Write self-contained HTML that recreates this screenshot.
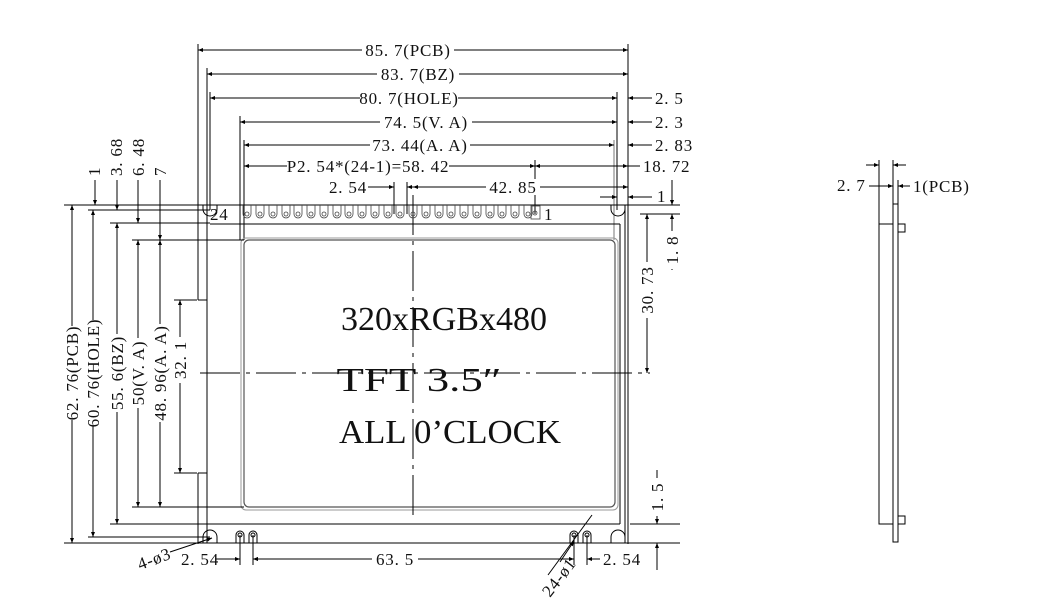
<!DOCTYPE html>
<html><head><meta charset="utf-8"><style>
html,body{margin:0;padding:0;background:#fff;}
svg{display:block;}
text{font-family:"Liberation Serif","Noto Serif CJK SC",serif;fill:#111;}
.d text{font-size:17px;letter-spacing:0.8px;}
</style></head><body>
<svg width="1051" height="616" viewBox="0 0 1051 616" xmlns="http://www.w3.org/2000/svg">
<defs>
<marker id="a" viewBox="0 0 10 10" refX="10" refY="5" markerWidth="12" markerHeight="5" markerUnits="userSpaceOnUse" orient="auto-start-reverse"><path d="M0,1 L10,5 L0,9z" fill="#000"/></marker>
</defs>
<g stroke="#000" stroke-width="1" fill="none">
<line x1="198" y1="44" x2="198" y2="300"/>
<line x1="198" y1="473" x2="198" y2="544"/>
<line x1="628" y1="44" x2="628" y2="544"/>
<line x1="207" y1="68" x2="207" y2="543"/>
<line x1="210" y1="92" x2="210" y2="210"/>
<line x1="617" y1="92" x2="617" y2="210"/>
<line x1="240" y1="116" x2="240" y2="240"/>
<line x1="244" y1="140" x2="244" y2="240"/>
<line x1="614" y1="140" x2="614" y2="240" stroke="#777"/>
<line x1="535" y1="160" x2="535" y2="214"/>
<line x1="394" y1="182" x2="394" y2="214"/>
<line x1="407" y1="182" x2="407" y2="214"/>
<line x1="198" y1="50" x2="628" y2="50" marker-start="url(#a)" marker-end="url(#a)"/>
<line x1="207" y1="74" x2="628" y2="74" marker-start="url(#a)" marker-end="url(#a)"/>
<line x1="210" y1="98" x2="617" y2="98" marker-start="url(#a)" marker-end="url(#a)"/>
<line x1="628" y1="98" x2="652" y2="98" marker-start="url(#a)"/>
<line x1="240" y1="122" x2="617" y2="122" marker-start="url(#a)" marker-end="url(#a)"/>
<line x1="628" y1="122" x2="652" y2="122" marker-start="url(#a)"/>
<line x1="244" y1="145" x2="614" y2="145" marker-start="url(#a)" marker-end="url(#a)"/>
<line x1="628" y1="145" x2="652" y2="145" marker-start="url(#a)"/>
<line x1="244" y1="166" x2="535" y2="166" marker-start="url(#a)" marker-end="url(#a)"/>
<line x1="535" y1="166" x2="628" y2="166" marker-start="url(#a)" marker-end="url(#a)"/>
<line x1="628" y1="166" x2="640" y2="166"/>
<line x1="368" y1="187" x2="394" y2="187" marker-end="url(#a)"/>
<line x1="420" y1="187" x2="407" y2="187" marker-end="url(#a)"/>
<line x1="413" y1="187" x2="628" y2="187" marker-start="url(#a)" marker-end="url(#a)"/>
<line x1="600" y1="197" x2="617" y2="197" marker-end="url(#a)"/>
<line x1="652" y1="197" x2="628" y2="197" marker-end="url(#a)"/>
<line x1="64" y1="205" x2="680" y2="205"/>
<line x1="64" y1="543" x2="680" y2="543"/>
<path d="M198 300 H207 M198 473 H207"/>
<line x1="210" y1="224" x2="620" y2="224"/>
<line x1="210" y1="524" x2="620" y2="524"/>
<line x1="620" y1="224" x2="620" y2="524"/>
<line x1="625" y1="205" x2="625" y2="543"/>
<rect x="244" y="240" width="371" height="267" rx="5" stroke="#555" stroke-width="1.2"/>
<rect x="241" y="238" width="377" height="272" rx="5" stroke="#999"/>
<line x1="88" y1="210" x2="210" y2="210"/>
<line x1="110" y1="223" x2="210" y2="223"/>
<line x1="132" y1="240" x2="244" y2="240"/>
<line x1="132" y1="507" x2="244" y2="507"/>
<line x1="110" y1="524" x2="210" y2="524"/>
<line x1="88" y1="537" x2="210" y2="537"/>
<line x1="174" y1="300" x2="197" y2="300"/>
<line x1="174" y1="473" x2="197" y2="473"/>
<line x1="72" y1="205" x2="72" y2="543" marker-start="url(#a)" marker-end="url(#a)"/>
<line x1="93" y1="210" x2="93" y2="537" marker-start="url(#a)" marker-end="url(#a)"/>
<line x1="117" y1="223" x2="117" y2="524" marker-start="url(#a)" marker-end="url(#a)"/>
<line x1="138" y1="240" x2="138" y2="507" marker-start="url(#a)" marker-end="url(#a)"/>
<line x1="160" y1="240" x2="160" y2="507" marker-start="url(#a)" marker-end="url(#a)"/>
<line x1="180" y1="300" x2="180" y2="473" marker-start="url(#a)" marker-end="url(#a)"/>
<line x1="95" y1="180" x2="95" y2="205" marker-end="url(#a)"/>
<line x1="117" y1="180" x2="117" y2="210" marker-end="url(#a)"/>
<line x1="138" y1="180" x2="138" y2="223" marker-end="url(#a)"/>
<line x1="160" y1="180" x2="160" y2="240" marker-end="url(#a)"/>
<line x1="413" y1="195" x2="413" y2="520" stroke-dasharray="40,6,4,6"/>
<line x1="200" y1="373" x2="650" y2="373" stroke-dasharray="40,6,4,6"/>
<line x1="640" y1="205" x2="680" y2="205"/>
<line x1="640" y1="214" x2="680" y2="214"/>
<line x1="647" y1="214" x2="647" y2="373" marker-start="url(#a)" marker-end="url(#a)"/>
<line x1="672" y1="180" x2="672" y2="205" marker-end="url(#a)"/>
<line x1="672" y1="270" x2="672" y2="214" marker-end="url(#a)"/>
<line x1="630" y1="524" x2="680" y2="524"/>
<line x1="657" y1="470" x2="657" y2="524" marker-end="url(#a)"/>
<line x1="657" y1="570" x2="657" y2="543" marker-end="url(#a)"/>
<path d="M203 205 v4 a7 7 0 0 0 14 0 v-4"/>
<path d="M611 205 v4 a7 7 0 0 0 14 0 v-4"/>
<path d="M203 543 v-6 a7 7 0 0 1 14 0 v6"/>
<path d="M611 543 v-6 a7 7 0 0 1 14 0 v6"/>
<path d="M236 543 v-8 a4 4 0 0 1 8 0 v8 M249 543 v-8 a4 4 0 0 1 8 0 v8"/>
<path d="M570 543 v-8 a4 4 0 0 1 8 0 v8 M583 543 v-8 a4 4 0 0 1 8 0 v8"/>
<circle cx="240" cy="535" r="2"/><circle cx="253" cy="535" r="2"/>
<circle cx="574" cy="535" r="2"/><circle cx="587" cy="535" r="2"/>
<line x1="240" y1="535" x2="240" y2="565"/><line x1="253" y1="535" x2="253" y2="565"/>
<line x1="574" y1="535" x2="574" y2="565"/><line x1="587" y1="535" x2="587" y2="565"/>
<line x1="215" y1="559" x2="240" y2="559" marker-end="url(#a)"/>
<line x1="265" y1="559" x2="253" y2="559" marker-end="url(#a)"/>
<line x1="253" y1="559" x2="574" y2="559" marker-start="url(#a)" marker-end="url(#a)"/>
<line x1="600" y1="559" x2="587" y2="559" marker-end="url(#a)"/>
<line x1="170" y1="552" x2="212" y2="538" marker-end="url(#a)"/>
<line x1="548" y1="575" x2="592" y2="515"/>
<line x1="560" y1="562" x2="574" y2="541" marker-end="url(#a)"/>
<rect x="879" y="224" width="14" height="300"/>
<rect x="893" y="204" width="5" height="338"/>
<rect x="898" y="224" width="7" height="8"/>
<rect x="898" y="516" width="7" height="8"/>
<line x1="879" y1="160" x2="879" y2="224"/>
<line x1="893" y1="160" x2="893" y2="204"/>
<line x1="898" y1="180" x2="898" y2="204"/>
<line x1="866" y1="165" x2="879" y2="165" marker-end="url(#a)"/>
<line x1="906" y1="165" x2="893" y2="165" marker-end="url(#a)"/>
<line x1="869" y1="186" x2="893" y2="186" marker-end="url(#a)"/>
<line x1="910" y1="186" x2="898" y2="186" marker-end="url(#a)"/>
</g>
<g stroke="#444" stroke-width="0.8" fill="none">
<path d="M243 205 v9 a4 4 0 0 0 8 0 v-9"/><circle cx="247" cy="214" r="2"/>
<path d="M256 205 v9 a4 4 0 0 0 8 0 v-9"/><circle cx="260" cy="214" r="2"/>
<path d="M269 205 v9 a4 4 0 0 0 8 0 v-9"/><circle cx="273" cy="214" r="2"/>
<path d="M282 205 v9 a4 4 0 0 0 8 0 v-9"/><circle cx="286" cy="214" r="2"/>
<path d="M294 205 v9 a4 4 0 0 0 8 0 v-9"/><circle cx="298" cy="214" r="2"/>
<path d="M307 205 v9 a4 4 0 0 0 8 0 v-9"/><circle cx="311" cy="214" r="2"/>
<path d="M320 205 v9 a4 4 0 0 0 8 0 v-9"/><circle cx="324" cy="214" r="2"/>
<path d="M333 205 v9 a4 4 0 0 0 8 0 v-9"/><circle cx="337" cy="214" r="2"/>
<path d="M345 205 v9 a4 4 0 0 0 8 0 v-9"/><circle cx="349" cy="214" r="2"/>
<path d="M358 205 v9 a4 4 0 0 0 8 0 v-9"/><circle cx="362" cy="214" r="2"/>
<path d="M371 205 v9 a4 4 0 0 0 8 0 v-9"/><circle cx="375" cy="214" r="2"/>
<path d="M384 205 v9 a4 4 0 0 0 8 0 v-9"/><circle cx="388" cy="214" r="2"/>
<path d="M396 205 v9 a4 4 0 0 0 8 0 v-9"/><circle cx="400" cy="214" r="2"/>
<path d="M409 205 v9 a4 4 0 0 0 8 0 v-9"/><circle cx="413" cy="214" r="2"/>
<path d="M422 205 v9 a4 4 0 0 0 8 0 v-9"/><circle cx="426" cy="214" r="2"/>
<path d="M435 205 v9 a4 4 0 0 0 8 0 v-9"/><circle cx="439" cy="214" r="2"/>
<path d="M447 205 v9 a4 4 0 0 0 8 0 v-9"/><circle cx="451" cy="214" r="2"/>
<path d="M460 205 v9 a4 4 0 0 0 8 0 v-9"/><circle cx="464" cy="214" r="2"/>
<path d="M473 205 v9 a4 4 0 0 0 8 0 v-9"/><circle cx="477" cy="214" r="2"/>
<path d="M486 205 v9 a4 4 0 0 0 8 0 v-9"/><circle cx="490" cy="214" r="2"/>
<path d="M498 205 v9 a4 4 0 0 0 8 0 v-9"/><circle cx="502" cy="214" r="2"/>
<path d="M511 205 v9 a4 4 0 0 0 8 0 v-9"/><circle cx="515" cy="214" r="2"/>
<path d="M524 205 v9 a4 4 0 0 0 8 0 v-9"/><circle cx="528" cy="214" r="2"/>
<rect x="531" y="206" width="9" height="13"/><circle cx="535" cy="213" r="2"/>
</g>
<!-- white knockouts -->
<g fill="#fff" stroke="none">
<rect x="362" y="42" width="92" height="16"/>
<rect x="377" y="66" width="82" height="16"/>
<rect x="360" y="90" width="98" height="16"/>
<rect x="380" y="114" width="92" height="16"/>
<rect x="370" y="137" width="100" height="16"/>
<rect x="287" y="158" width="162" height="16"/>
<rect x="486" y="179" width="54" height="16"/>
<rect x="372" y="551" width="46" height="16"/>
<rect x="64" y="326" width="17" height="94"/>
<rect x="85" y="320" width="17" height="106"/>
<rect x="109" y="334" width="17" height="78"/>
<rect x="130" y="338" width="17" height="70"/>
<rect x="152" y="324" width="17" height="98"/>
<rect x="172" y="337" width="17" height="46"/>
<rect x="639" y="262" width="17" height="56"/>
<rect x="664" y="231" width="17" height="38"/>
<rect x="649" y="478" width="17" height="38"/>
</g>
<g class="d" text-anchor="middle">
<text x="408" y="56">85. 7(PCB)</text>
<text x="418" y="80">83. 7(BZ)</text>
<text x="409" y="104">80. 7(HOLE)</text>
<text x="426" y="128">74. 5(V. A)</text>
<text x="420" y="151">73. 44(A. A)</text>
<text x="368" y="172">P2. 54*(24-1)=58. 42</text>
<text x="513" y="193">42. 85</text>
<text x="395" y="565">63. 5</text>
<text x="348" y="193">2. 54</text>
<text x="200" y="565">2. 54</text>
<text x="622" y="565">2. 54</text>
<text transform="translate(78 373) rotate(-90)">62. 76(PCB)</text>
<text transform="translate(99 373) rotate(-90)">60. 76(HOLE)</text>
<text transform="translate(123 373) rotate(-90)">55. 6(BZ)</text>
<text transform="translate(144 373) rotate(-90)">50(V. A)</text>
<text transform="translate(166 373) rotate(-90)">48. 96(A. A)</text>
<text transform="translate(186 360) rotate(-90)">32. 1</text>
<text transform="translate(653 290) rotate(-90)">30. 73</text>
<text transform="translate(678 250) rotate(-90)">1. 8</text>
<text transform="translate(663 497) rotate(-90)">1. 5</text>
</g>
<g class="d">
<text x="655" y="104">2. 5</text>
<text x="655" y="128">2. 3</text>
<text x="655" y="151">2. 83</text>
<text x="643" y="172">18. 72</text>
<text x="657" y="202">1</text>
<text x="210" y="220">24</text>
<text x="544" y="220">1</text>
<text x="837" y="191">2. 7</text>
<text x="913" y="192">1(PCB)</text>
<text x="140" y="570" transform="rotate(-20 140 570)">4-ø3</text>
<text x="550" y="598" transform="rotate(-52 550 598)">24-ø1</text>
<text transform="translate(100 176) rotate(-90)">1</text>
<text transform="translate(122 176) rotate(-90)">3. 68</text>
<text transform="translate(144 176) rotate(-90)">6. 48</text>
<text transform="translate(166 176) rotate(-90)">7</text>
</g>
<g font-size="34" text-anchor="middle">
<text x="444" y="330" textLength="206" lengthAdjust="spacingAndGlyphs">320xRGBx480</text>
<text x="419" y="391" textLength="165" lengthAdjust="spacingAndGlyphs">TFT 3.5″</text>
<text x="450" y="443" textLength="222" lengthAdjust="spacingAndGlyphs">ALL 0’CLOCK</text>
</g>
</svg>
</body></html>
